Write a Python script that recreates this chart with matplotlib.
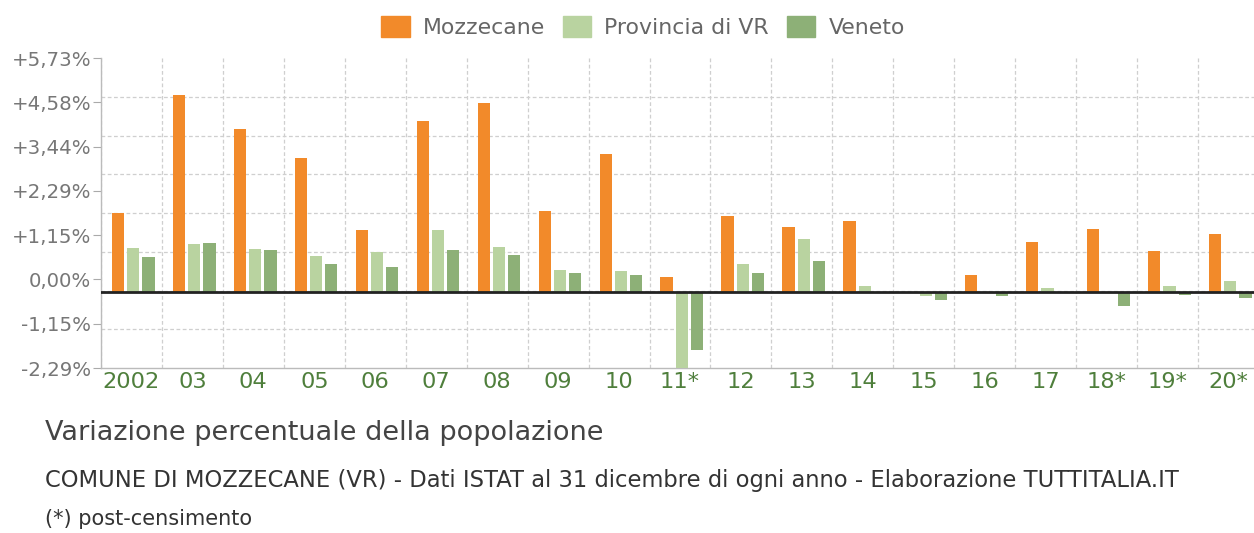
import numpy as np
import matplotlib
matplotlib.use("Agg")
import matplotlib.pyplot as plt
from matplotlib.patches import Patch

# data (variazione % annua)
years = ["2002", "03", "04", "05", "06", "07", "08", "09", "10", "11*",
         "12", "13", "14", "15", "16", "17", "18*", "19*", "20*"]
mozzecane = [2.05, 5.10, 4.21, 3.46, 1.60, 4.41, 4.88, 2.10, 3.57, 0.38,
             1.97, 1.69, 1.84, 0.00, 0.44, 1.29, 1.62, 1.06, 1.49]
provincia = [1.13, 1.24, 1.11, 0.94, 1.04, 1.59, 1.17, 0.57, 0.55, -1.97,
             0.72, 1.37, 0.16, -0.10, -0.03, 0.10, 0.00, 0.16, 0.27]
veneto = [0.90, 1.26, 1.07, 0.72, 0.65, 1.07, 0.96, 0.48, 0.44, -1.50,
          0.50, 0.81, 0.00, -0.21, -0.12, -0.03, -0.36, -0.08, -0.16]
ytick_labels = ["-2,29%", "-1,15%", "0,00%", "+1,15%", "+2,29%", "+3,44%", "+4,58%", "+5,73%"]

c_orange = "#f28a2a"
c_light = "#b9d3a0"
c_dark = "#8db077"

W, H = 1254, 533
fig = plt.figure(figsize=(W / 100, H / 100), dpi=100)
fig.patch.set_facecolor("white")

# plot area in pixels: x 101..1259, y 58..368
ax = fig.add_axes([101 / W, (H - 368) / H, 1158 / W, 310 / H])

ylo, yhi = -1.97, 6.05
x = np.arange(len(years))
bw = 0.2
ax.bar(x + 0.03 - 0.25, mozzecane, bw, color=c_orange, zorder=3)
ax.bar(x + 0.03, provincia, bw, color=c_light, zorder=3)
ax.bar(x + 0.03 + 0.25, veneto, bw, color=c_dark, zorder=3)
ax.axhline(0, color="#222222", lw=2, zorder=4)

ax.set_xlim(-0.5, len(years) - 0.5)
ax.set_ylim(ylo, yhi)

# grid (not aligned with labels, as in the original)
ax.set_yticks(np.linspace(ylo, yhi, 9), minor=True)
ax.set_xticks(np.arange(len(years)) - 0.5, minor=True)
ax.grid(which="minor", color="#cfcfcf", linestyle=(0, (3, 2)), linewidth=0.9, zorder=0)
ax.tick_params(which="minor", length=0)

ax.set_yticks(np.linspace(ylo, yhi, 8))
ax.set_yticklabels(ytick_labels)
ax.tick_params(axis="y", which="major", length=6, color="#aaaaaa", labelsize=14.2,
               labelcolor="#777777", pad=1)

ax.set_xticks(x)
ax.set_xticklabels(years)
ax.tick_params(axis="x", which="major", length=0, labelsize=16.2, labelcolor="#4f7f3c", pad=3)

for s in ["top", "right"]:
    ax.spines[s].set_visible(False)
for s in ["left", "bottom"]:
    ax.spines[s].set_color("#bbbbbb")
    ax.spines[s].set_linewidth(1)

handles = [Patch(color=c_orange, label="Mozzecane"),
           Patch(color=c_light, label="Provincia di VR"),
           Patch(color=c_dark, label="Veneto")]
fig.legend(handles=handles, loc="center", bbox_to_anchor=(643 / W, 1 - 27 / H), ncol=3,
           frameon=False, fontsize=15.8, labelcolor="#666666",
           handlelength=1.3, handleheight=1.1, handletextpad=0.6, columnspacing=0.8)

fig.text(45 / W, 1 - 433 / H, "Variazione percentuale della popolazione",
         fontsize=19.5, color="#444444", va="center", ha="left")
fig.text(45 / W, 1 - 480 / H,
         "COMUNE DI MOZZECANE (VR) - Dati ISTAT al 31 dicembre di ogni anno - Elaborazione TUTTITALIA.IT",
         fontsize=16.3, color="#333333", va="center", ha="left")
fig.text(45 / W, 1 - 519 / H, "(*) post-censimento",
         fontsize=15, color="#333333", va="center", ha="left")

fig.savefig("out.png", dpi=100, facecolor="white")
